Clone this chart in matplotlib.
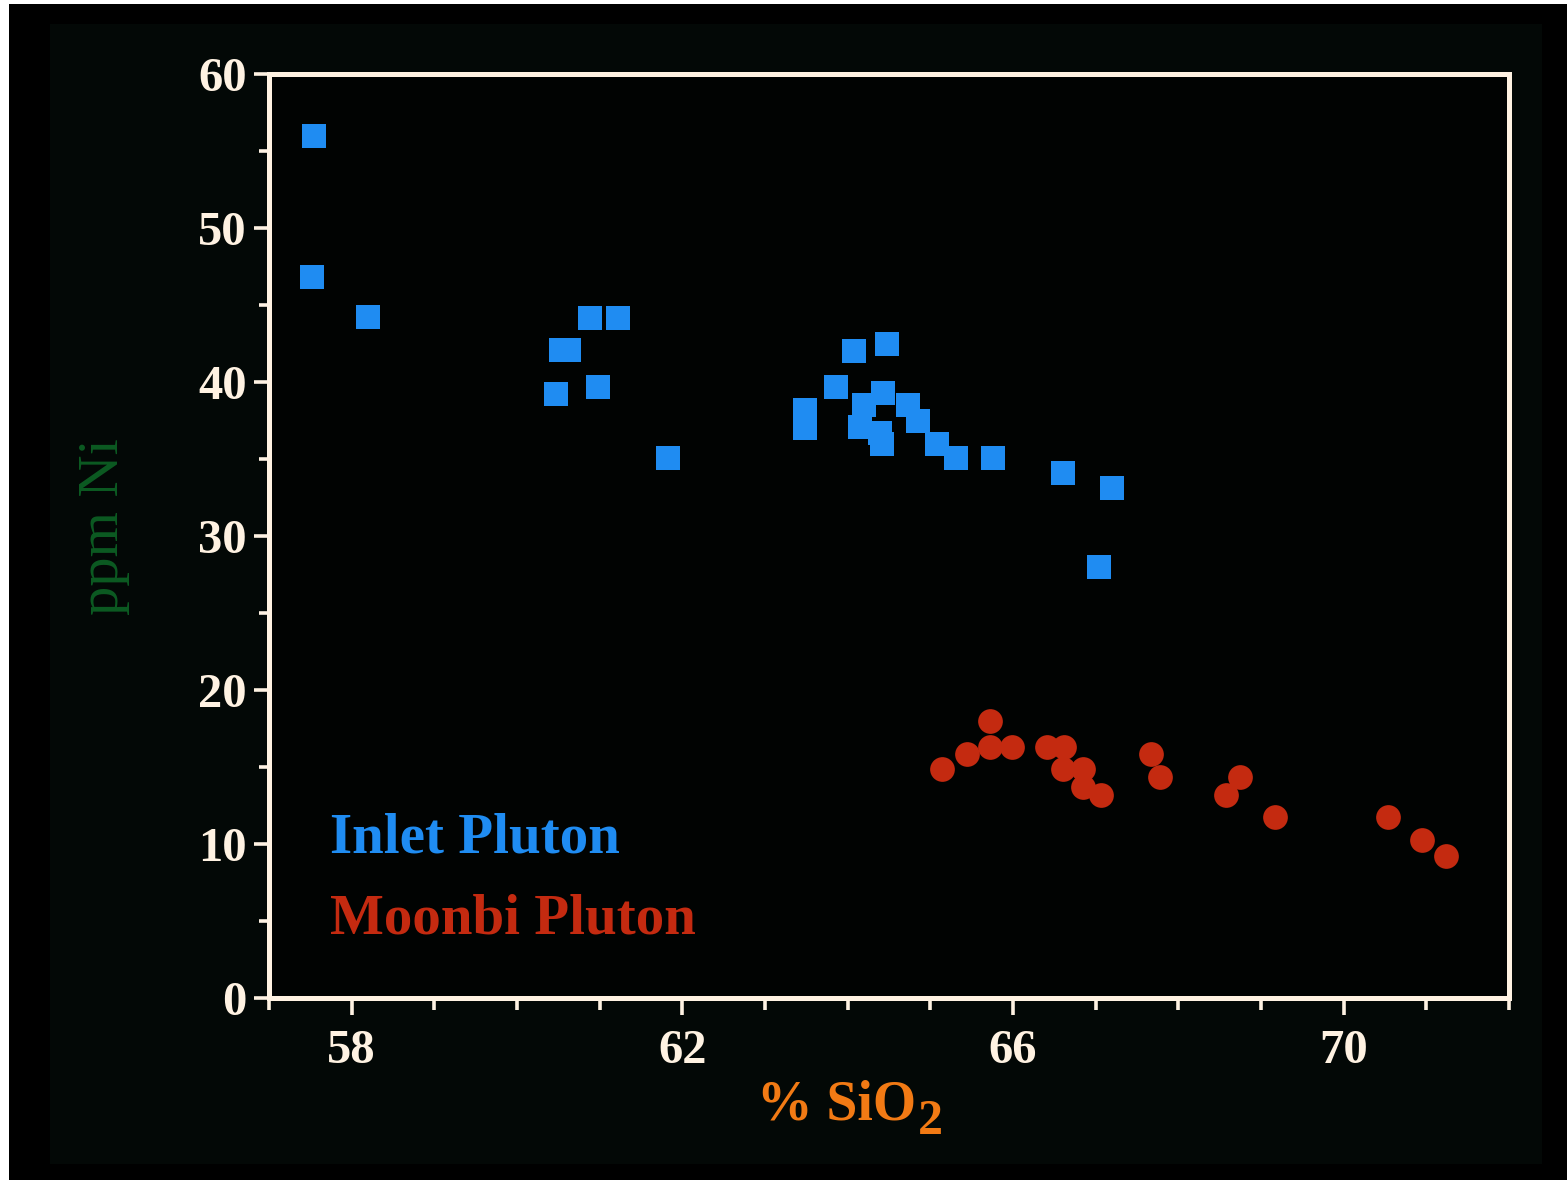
import numpy as np
import matplotlib.pyplot as plt
from matplotlib.patches import Rectangle
from matplotlib.ticker import FixedLocator, MultipleLocator

plt.rcParams['font.family'] = ['Liberation Serif', 'DejaVu Serif']

# Inlet Pluton samples (% SiO2, ppm Ni)
inlet_sio2 = [57.54, 57.52, 58.20, 60.47, 60.53, 60.63, 60.88, 61.22, 60.98, 61.83,
              64.08, 64.47, 63.86, 63.48, 63.48, 64.43, 64.20, 64.15, 64.39, 64.42,
              64.73, 64.85, 65.08, 65.31, 65.76, 66.60, 67.20, 67.04]
inlet_ni = [56.0, 46.8, 44.2, 39.2, 42.1, 42.1, 44.15, 44.15, 39.7, 35.06,
            42.0, 42.5, 39.7, 38.2, 37.0, 39.3, 38.5, 37.1, 36.7, 36.0,
            38.5, 37.5, 36.0, 35.06, 35.06, 34.1, 33.1, 28.0]

# Moonbi Pluton samples
moonbi_sio2 = [65.14, 65.44, 65.72, 65.72, 65.99, 66.41, 66.62, 66.60, 66.85, 66.85,
               67.06, 67.67, 67.78, 68.58, 68.75, 69.17, 70.54, 70.95, 71.24]
moonbi_ni = [14.87, 15.84, 17.99, 16.3, 16.3, 16.3, 16.3, 14.87, 14.9, 13.7,
             13.18, 15.84, 14.35, 13.18, 14.35, 11.75, 11.75, 10.26, 9.2]

x_major = [58, 62, 66, 70]

cream = '#fff2e2'
blue = '#1f8cf2'
red = '#c42a10'
orange = '#f27a14'

fig = plt.figure(figsize=(15.67, 11.80), dpi=100, facecolor='white')
# slide frame: black surround and a very dark panel behind the plot
fig.patches.append(Rectangle((9 / 1567, -0.02), 1.02, 1.02 - 4 / 1180, transform=fig.transFigure,
                             facecolor='black', edgecolor='none', zorder=-2))
fig.patches.append(Rectangle((50 / 1567, 16 / 1180), 1492 / 1567, 1140 / 1180,
                             transform=fig.transFigure, facecolor='#030806',
                             edgecolor='none', zorder=-1))

ax = fig.add_axes([269 / 1567, 1 - 998 / 1180, 1240 / 1567, 924 / 1180])
ax.set_facecolor('#010302')

ax.scatter(inlet_sio2, inlet_ni, marker='s', s=17.0 ** 2, color=blue, linewidths=0, zorder=3)
ax.scatter(moonbi_sio2, moonbi_ni, marker='o', s=17.8 ** 2, color=red, linewidths=0, zorder=3)

ax.set_xlim(57, 72)
ax.set_ylim(0, 60)
ax.xaxis.set_major_locator(FixedLocator(x_major))
ax.xaxis.set_minor_locator(MultipleLocator(1))
ax.yaxis.set_major_locator(MultipleLocator(10))
ax.yaxis.set_minor_locator(MultipleLocator(5))

for s in ax.spines.values():
    s.set_color(cream)
    s.set_linewidth(3.6)

ax.tick_params(axis='both', which='both', color=cream, width=2.6, direction='out')
ax.tick_params(axis='x', which='major', length=12, pad=10)
ax.tick_params(axis='x', which='minor', length=8.5)
ax.tick_params(axis='y', which='major', length=11, pad=5)
ax.tick_params(axis='y', which='minor', length=7.5)
ax.tick_params(axis='both', which='major', labelsize=35, labelcolor=cream)
for lab in ax.get_xticklabels() + ax.get_yticklabels():
    lab.set_fontweight('bold')

# x label with a large, dropped subscript
xl = ax.text(0.458, -0.088, '% SiO', transform=ax.transAxes, ha='center', va='top',
             fontsize=40, fontweight='bold', color=orange)
ax.annotate('2', xy=(1, 0), xycoords=xl, xytext=(1, -10), textcoords='offset points',
            ha='left', va='bottom', fontsize=36, fontweight='bold', color=orange)

ax.text(-0.133, 0.51, 'ppm Ni', transform=ax.transAxes, rotation=90,
        ha='center', va='center', fontsize=42, color='#0c5a22')

ax.text(0.049, 0.158, 'Inlet Pluton', transform=ax.transAxes, ha='left', va='baseline',
        fontsize=41, fontweight='bold', color=blue)
ax.text(0.049, 0.0703, 'Moonbi Pluton', transform=ax.transAxes, ha='left', va='baseline',
        fontsize=41, fontweight='bold', color=red)

fig.savefig('out.png', dpi=100, facecolor=fig.get_facecolor())
